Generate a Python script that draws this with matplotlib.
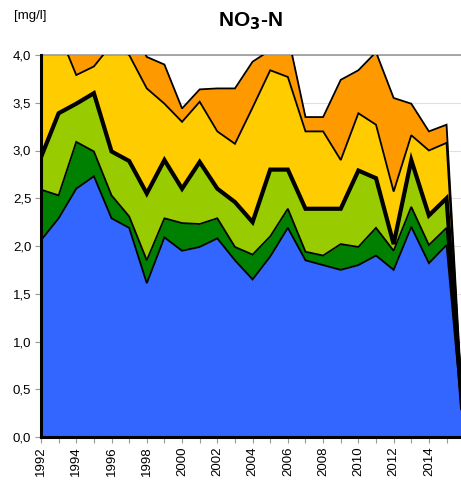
import matplotlib
matplotlib.use("Agg")
import matplotlib.pyplot as plt
import numpy as np

plt.rcParams["font.family"] = ["Liberation Sans", "DejaVu Sans"]

years = list(range(1992, 2017))

# per-layer values (stacked), 2016 drops to zero
blue = [2.06, 2.29, 2.60, 2.73, 2.29, 2.19, 1.61, 2.09, 1.95, 1.99, 2.08, 1.85,
        1.65, 1.89, 2.19, 1.85, 1.80, 1.75, 1.80, 1.90, 1.75, 2.20, 1.82, 2.01, 0]
dark_green = [0.53, 0.24, 0.49, 0.26, 0.24, 0.12, 0.24, 0.20, 0.29, 0.24, 0.21, 0.14,
              0.26, 0.21, 0.20, 0.09, 0.10, 0.27, 0.19, 0.29, 0.20, 0.21, 0.19, 0.18, 0]
light_green = [0.34, 0.86, 0.40, 0.61, 0.46, 0.58, 0.70, 0.61, 0.36, 0.65, 0.31, 0.47,
               0.34, 0.70, 0.41, 0.45, 0.49, 0.37, 0.80, 0.52, 0.07, 0.49, 0.31, 0.31, 0]
yellow = [1.37, 0.85, 0.30, 0.28, 1.12, 1.11, 1.10, 0.59, 0.70, 0.63, 0.60, 0.61,
          1.20, 1.04, 0.97, 0.81, 0.81, 0.51, 0.60, 0.56, 0.55, 0.26, 0.68, 0.58, 0]
orange = [0.20, 0.36, 0.71, 0.62, 0.39, 0.30, 0.33, 0.41, 0.14, 0.13, 0.45, 0.58,
          0.48, 0.21, 0.44, 0.15, 0.15, 0.84, 0.45, 0.76, 0.98, 0.33, 0.20, 0.19, 0]

layers = [blue, dark_green, light_green, yellow, orange]
colors = ["#3366ff", "#008000", "#99cc00", "#ffcc00", "#ff9900"]
edge_widths = [1.3, 1.3, 3.0, 1.3, 1.3]

fig = plt.figure(figsize=(4.61, 4.82), dpi=100)
ax = fig.add_axes([41 / 461, 45 / 482, 420 / 461, 382 / 482])

x = np.array(years)
bottom = np.zeros(len(years))
tops = []
for vals, color in zip(layers, colors):
    top = bottom + np.array(vals)
    ax.fill_between(x, bottom, top, color=color, linewidth=0, zorder=2)
    tops.append(top)
    bottom = top
for top, lw in zip(tops, edge_widths):
    ax.plot(x, top, color="black", linewidth=lw, zorder=3, solid_joinstyle="miter")

ax.set_xlim(1992, 2015.82)
ax.set_ylim(0, 4.0)

ax.set_yticks(np.arange(0, 4.01, 0.5))
ax.set_yticklabels([f"{v:.1f}".replace(".", ",") for v in np.arange(0, 4.01, 0.5)],
                   fontsize=9.5)
ax.set_xticks(years[:-1])
ax.set_xticklabels([str(y) if y % 2 == 0 else "" for y in years[:-1]],
                   rotation=90, fontsize=9.5)
ax.tick_params(axis="x", length=4, color="#999999", pad=3)
ax.tick_params(axis="y", length=4, color="#999999", pad=3)

ax.grid(axis="y", color="#e0e0e0", linewidth=0.8, zorder=0)
ax.set_axisbelow(True)
ax.spines["right"].set_visible(False)
ax.spines["top"].set_color("#999999")
ax.spines["top"].set_linewidth(1.2)
ax.spines["left"].set_linewidth(2.2)
ax.spines["bottom"].set_linewidth(2.2)
ax.spines["left"].set_zorder(4)
ax.spines["bottom"].set_zorder(4)

fig.text(250 / 461, 1 - 21 / 482, "NO$_\\mathbf{3}$-N", fontsize=15,
         fontweight="bold", ha="center", va="center")
fig.text(14 / 461, 1 - 16 / 482, "[mg/l]", fontsize=9.5, ha="left", va="center")

fig.savefig("out.png", dpi=100)
